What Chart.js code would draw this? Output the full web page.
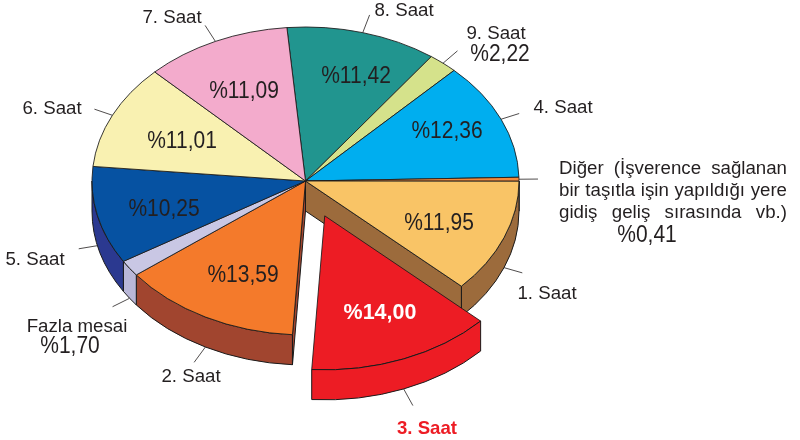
<!DOCTYPE html>
<html>
<head>
<meta charset="utf-8">
<script src="https://cdn.jsdelivr.net/npm/chart.js@4.4.1/dist/chart.umd.min.js"></script>
<style>
  html, body { margin: 0; padding: 0; background: #fff; }
  canvas { display: block; }
</style>
</head>
<body>
<canvas id="pie" width="800" height="440"></canvas>
<script>
// Données (ordre horaire, en partant du haut)
var categories = ['8. Saat', '9. Saat', '4. Saat', 'Diğer', '1. Saat', '3. Saat', '2. Saat', 'Fazla mesai', '5. Saat', '6. Saat', '7. Saat'];
var shares = [11.42, 2.22, 12.36, 0.41, 11.95, 14.00, 13.59, 1.70, 10.25, 11.01, 11.09];
var digerLines = ['Diğer (İşverence sağlanan', 'bir taşıtla işin yapıldığı yere', 'gidiş geliş sırasında vb.)'];

var topColors = ['#21958f', '#d5e28b', '#00aeef', '#f58a3c', '#f9c466', '#ed1c24', '#f47a2b', '#c9c7e4', '#0652a2', '#f9f1b1', '#f3abcc'];
var sideColors = ['#17706b', '#a9b566', '#0083b8', '#c06020', '#9c6b3c', '#ed1c24', '#a1452f', '#b9b7d8', '#2b3990', '#c9c089', '#c2819f'];

// Position des textes (centre)
var namePos = [[404, 9], [496, 32], [563, 106], null, [547, 292], [427, 427], [191, 375], [77, 325], [35, 258], [52, 107], [172, 16]];
var pctInside = [[356, 74], null, [447, 129], null, [439, 221], [380, 311], [243, 273], null, [164, 207], [182, 139], [244, 89]];
var pctOutside = [null, [500, 52], null, [647, 233], null, null, null, [70, 344], null, null, null];

var K = 154 / 213.5;      // aplatissement de l'ellipse
var DEPTH = 30;           // épaisseur du camembert
var EXPLODED = 5;         // 3. Saat
var EXPLODE_DIST = 52;
var FONT = '"Liberation Sans", Arial, sans-serif';

function pctText(v) {
    return '%' + v.toFixed(2).replace('.', ',');
}

function centerY(chart) {
    return (chart.chartArea.top + chart.chartArea.bottom) / 2;
}

function screenY(chart, y) {
    var cy = centerY(chart);
    return cy + (y - cy) * K;
}

function drawWall(ctx, chart, el, color) {
    var s = Math.max(el.startAngle, 0);
    var e = Math.min(el.endAngle, Math.PI);
    if (s >= e) return;
    var x = el.x, y = screenY(chart, el.y), R = el.outerRadius;
    ctx.beginPath();
    ctx.ellipse(x, y, R, R * K, 0, s, e, false);
    ctx.ellipse(x, y + DEPTH, R, R * K, 0, e, s, true);
    ctx.closePath();
    ctx.fillStyle = color;
    ctx.fill();
    ctx.stroke();
}

function drawFace(ctx, chart, el, a, color) {
    var x = el.x, y = screenY(chart, el.y), R = el.outerRadius;
    var px = x + R * Math.cos(a), py = y + R * K * Math.sin(a);
    ctx.beginPath();
    ctx.moveTo(x, y);
    ctx.lineTo(px, py);
    ctx.lineTo(px, py + DEPTH);
    ctx.lineTo(x, y + DEPTH);
    ctx.closePath();
    ctx.fillStyle = color;
    ctx.fill();
    ctx.stroke();
}

function drawText(ctx, txt, x, y, size, color, bold, sy) {
    ctx.save();
    ctx.font = (bold ? 'bold ' : '') + size + 'px ' + FONT;
    ctx.fillStyle = color;
    ctx.textAlign = 'center';
    ctx.textBaseline = 'alphabetic';
    ctx.translate(x, y);
    ctx.scale(1, sy || 1);
    ctx.fillText(txt, 0, 0.358 * size);
    ctx.restore();
}

function drawJustified(ctx, txt, x0, x1, y, size) {
    ctx.save();
    ctx.font = size + 'px ' + FONT;
    ctx.fillStyle = '#231f20';
    ctx.textAlign = 'left';
    ctx.textBaseline = 'alphabetic';
    var words = txt.split(' ');
    var total = 0;
    words.forEach(function (w) { total += ctx.measureText(w).width; });
    var gap = (x1 - x0 - total) / (words.length - 1);
    var x = x0;
    words.forEach(function (w) {
        ctx.fillText(w, x, y + 0.358 * size);
        x += ctx.measureText(w).width + gap;
    });
    ctx.restore();
}

var pie3d = {
    id: 'pie3d',
    afterDatasetUpdate: function (chart, args) {
        var el = args.meta.data[EXPLODED];
        var mid = (el.startAngle + el.endAngle) / 2;
        el.x += Math.cos(mid) * EXPLODE_DIST;
        el.y += Math.sin(mid) * EXPLODE_DIST;
    },
    beforeDatasetsDraw: function (chart) {
        var ctx = chart.ctx;
        var arcs = chart.getDatasetMeta(0).data;
        ctx.save();
        ctx.lineWidth = 1;
        ctx.strokeStyle = '#1a1a1a';
        ctx.lineJoin = 'round';
        arcs.forEach(function (el, i) {
            if (i !== EXPLODED) drawWall(ctx, chart, el, sideColors[i]);
        });
        // faces radiales visibles à côté de la part détachée
        var prev = arcs[EXPLODED - 1], next = arcs[EXPLODED + 1];
        if (Math.cos(prev.endAngle) > 0) drawFace(ctx, chart, prev, prev.endAngle, sideColors[EXPLODED - 1]);
        if (Math.cos(next.startAngle) < 0) drawFace(ctx, chart, next, next.startAngle, sideColors[EXPLODED + 1]);
        ctx.restore();

        // dessus du camembert : cercle écrasé en ellipse
        var cx = (chart.chartArea.left + chart.chartArea.right) / 2;
        var cy = centerY(chart);
        ctx.save();
        ctx.translate(cx, cy);
        ctx.scale(1, K);
        ctx.translate(-cx, -cy);
    },
    afterDatasetsDraw: function (chart) {
        var ctx = chart.ctx;
        ctx.restore();
        var arcs = chart.getDatasetMeta(0).data;

        ctx.save();
        ctx.lineWidth = 1;
        ctx.strokeStyle = '#1a1a1a';
        drawWall(ctx, chart, arcs[EXPLODED], sideColors[EXPLODED]);

        // traits de rappel
        ctx.lineWidth = 0.8;
        ctx.strokeStyle = '#231f20';
        arcs.forEach(function (el) {
            var mid = (el.startAngle + el.endAngle) / 2;
            var R = el.outerRadius;
            var px = el.x + R * Math.cos(mid);
            var py = screenY(chart, el.y) + R * K * Math.sin(mid) + (Math.sin(mid) > 0 ? DEPTH : 0);
            var dx = Math.cos(mid), dy = Math.sin(mid) * K;
            var n = Math.sqrt(dx * dx + dy * dy);
            ctx.beginPath();
            ctx.moveTo(px, py);
            ctx.lineTo(px + dx / n * 19, py + dy / n * 19);
            ctx.stroke();
        });
        ctx.restore();

        // pourcentages dans les parts
        shares.forEach(function (v, i) {
            if (!pctInside[i]) return;
            if (i === EXPLODED) drawText(ctx, pctText(v), pctInside[i][0], pctInside[i][1], 21.5, '#ffffff', true, 1.03);
            else drawText(ctx, pctText(v), pctInside[i][0], pctInside[i][1], 21, '#231f20', false, 1.17);
        });

        // étiquettes extérieures
        categories.forEach(function (c, i) {
            if (namePos[i]) {
                if (i === EXPLODED) drawText(ctx, c, namePos[i][0], namePos[i][1], 18.6, '#ed1c24', true);
                else drawText(ctx, c, namePos[i][0], namePos[i][1], 18.7, '#231f20', false);
            }
            if (pctOutside[i]) drawText(ctx, pctText(shares[i]), pctOutside[i][0], pctOutside[i][1], 21, '#231f20', false, 1.17);
        });
        digerLines.forEach(function (t, j) {
            drawJustified(ctx, t, 559, 787, 167 + j * 22, 18.7);
        });
    }
};

new Chart(document.getElementById('pie'), {
    type: 'pie',
    data: {
        labels: categories,
        datasets: [{
            data: shares,
            backgroundColor: topColors,
            borderColor: '#1a1a1a',
            borderWidth: 1,
            clip: false
        }]
    },
    options: {
        responsive: false,
        animation: false,
        events: [],
        rotation: -5,
        radius: 213.5,
        layout: { padding: { left: 0, right: 189, top: 0, bottom: 78 } },
        plugins: {
            legend: { display: false },
            tooltip: { enabled: false }
        }
    },
    plugins: [pie3d]
});
</script>
</body>
</html>
